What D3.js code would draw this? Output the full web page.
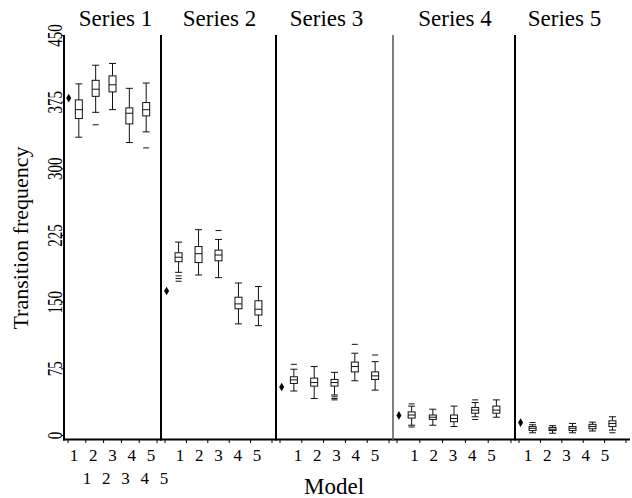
<!DOCTYPE html>
<html>
<head>
<meta charset="utf-8">
<script src="https://cdn.jsdelivr.net/npm/d3@7"></script>
<style>
  body { margin: 0; background: #fff; }
  svg text { font-family: 'Liberation Serif', serif; fill: #000; }
</style>
</head>
<body>
<svg id="chart" width="632" height="498"></svg>
<script>
// data
const seriesNames = ['Series 1', 'Series 2', 'Series 3', 'Series 4', 'Series 5'];
const models = ['1', '2', '3', '4', '5'];
const yTicks = [0, 75, 150, 225, 300, 375, 450];
const observed = [379, 162, 54, 22, 14];

const whiskerLow = [
  [335, 363, 366, 329, 341],
  [183, 180, 177, 125, 123],
  [49.5, 41, 45, 61, 50.5],
  [11, 11, 9.5, 20.5, 20],
  [2.5, 2, 2.5, 4.5, 5.5]
];
const q1 = [
  [356, 381, 386, 350, 359],
  [195, 194, 196, 142, 135],
  [58, 55, 55, 71, 62.5],
  [19, 17.5, 15, 24.5, 24.5],
  [5, 5, 5, 7, 9.5]
];
const median = [
  [366, 389, 394, 362, 366],
  [200, 204, 202.5, 147.5, 141.5],
  [62, 59, 59, 77, 66.5],
  [22.5, 20, 18.5, 28, 28],
  [7.5, 6.5, 7.5, 9.5, 13]
];
const q3 = [
  [377, 399, 404, 368, 374],
  [205, 212, 208, 155, 151],
  [65.5, 64, 62.5, 82, 71],
  [26, 22.5, 22.5, 31, 32.5],
  [9.5, 8.5, 9.5, 12, 16]
];
const whiskerHigh = [
  [395, 416, 418, 390, 396],
  [217, 231, 220, 171, 167],
  [74, 77, 70.5, 92, 82.5],
  [32.5, 29, 32.5, 36.5, 39.5],
  [11.5, 10.5, 13, 14.5, 20.5]
];
// [series index, model index, value]
const outliers = [
  [0, 1, 349], [0, 4, 323],
  [1, 0, 179], [1, 0, 176], [1, 0, 173], [1, 2, 230],
  [2, 0, 79.5], [2, 2, 43], [2, 2, 41], [2, 2, 39.5], [2, 3, 102], [2, 4, 90],
  [3, 0, 35], [3, 0, 9], [3, 3, 39.5], [3, 3, 17.5],
  [4, 0, 14], [4, 4, 2.5]
];

// layout
const panelEdges = [64, 161, 276, 393, 515, 630];
const titleDx = [3, 1, -8, 1, -8];
const labelDx = [0, 0, 2, -1, -6];
const labelStep = 19.3;
const boxW = 7;

const svg = d3.select('#chart').attr('font-family', 'Liberation Serif');

const y = d3.scaleLinear().domain([0, 450]).range([435, 35]);
const yBottom = 439.5;

// y axis
const yAxis = svg.append('g').attr('transform', `translate(${panelEdges[0]},0)`)
  .call(d3.axisLeft(y).tickValues(yTicks).tickSize(3).tickFormat(d3.format('d')))
  .attr('font-family', 'Liberation Serif');
yAxis.select('.domain').remove();
yAxis.selectAll('.tick line').attr('stroke', '#000');
yAxis.selectAll('.tick text').remove();
yAxis.selectAll('.tick').append('text')
  .attr('transform', 'translate(-2,0) rotate(-90) scale(1,1.45)')
  .attr('text-anchor', 'middle')
  .attr('font-size', 15)
  .text(d => d);

svg.append('text')
  .attr('transform', 'translate(28,238) rotate(-90)')
  .attr('text-anchor', 'middle')
  .attr('font-size', 22)
  .text('Transition frequency');

svg.append('text')
  .attr('x', 334).attr('y', 494)
  .attr('text-anchor', 'middle')
  .attr('font-size', 23)
  .text('Model');

// bottom line
svg.append('line')
  .attr('x1', panelEdges[0] - 1).attr('x2', 630)
  .attr('y1', yBottom).attr('y2', yBottom)
  .attr('stroke', '#000').attr('stroke-width', 2);

seriesNames.forEach((name, s) => {
  const left = panelEdges[s];
  const right = panelEdges[s + 1];
  const center = (left + right) / 2;
  const x = d3.scalePoint().domain(models).range([left, right]).padding(0.88);
  const g = svg.append('g');

  // vertical panel line on the left
  g.append('line')
    .attr('x1', left).attr('x2', left)
    .attr('y1', 35).attr('y2', yBottom + 1)
    .attr('stroke', s === 3 ? '#555' : '#000')
    .attr('stroke-width', s === 3 ? 1.5 : 2);

  g.append('text')
    .attr('x', center + titleDx[s]).attr('y', 26)
    .attr('text-anchor', 'middle')
    .attr('font-size', 23)
    .text(name);

  // small ticks on the bottom line
  const tickX = d3.range(6).map(i => left + 4 + i * (right - left - 8) / 5);
  g.selectAll('.xt').data(tickX).join('line')
    .attr('x1', d => d).attr('x2', d => d)
    .attr('y1', yBottom).attr('y2', yBottom + 3.5)
    .attr('stroke', '#000').attr('stroke-width', 1);

  // tick labels
  g.selectAll('.xl').data(models).join('text')
    .attr('x', (d, i) => center + labelDx[s] + (i - 2) * labelStep)
    .attr('y', 461)
    .attr('text-anchor', 'middle')
    .attr('font-size', 17)
    .text(d => d);
  if (s === 0) {
    g.selectAll('.xl2').data(models).join('text')
      .attr('x', (d, i) => center + 13 + (i - 2) * labelStep)
      .attr('y', 484)
      .attr('text-anchor', 'middle')
      .attr('font-size', 17)
      .text(d => d);
  }

  // observed value diamond
  const dx = x(models[0]) - 0.6 * x.step();
  g.append('path')
    .attr('d', d3.symbol(d3.symbolDiamond, 22)())
    .attr('transform', `translate(${dx},${y(observed[s])})`)
    .attr('fill', '#000');

  // boxes
  const boxes = models.map((m, i) => ({
    m, lo: whiskerLow[s][i], a: q1[s][i], med: median[s][i], b: q3[s][i], hi: whiskerHigh[s][i]
  }));
  const bg = g.selectAll('.box').data(boxes).join('g')
    .attr('stroke', '#111').attr('stroke-width', 1).attr('fill', 'none');
  bg.append('line')
    .attr('x1', d => x(d.m)).attr('x2', d => x(d.m))
    .attr('y1', d => y(d.hi)).attr('y2', d => y(d.b));
  bg.append('line')
    .attr('x1', d => x(d.m)).attr('x2', d => x(d.m))
    .attr('y1', d => y(d.a)).attr('y2', d => y(d.lo));
  bg.append('rect')
    .attr('x', d => x(d.m) - boxW / 2).attr('width', boxW)
    .attr('y', d => y(d.b)).attr('height', d => y(d.a) - y(d.b))
    .attr('fill', '#fff');
  bg.append('line')
    .attr('x1', d => x(d.m) - boxW / 2).attr('x2', d => x(d.m) + boxW / 2)
    .attr('y1', d => y(d.med)).attr('y2', d => y(d.med));
  bg.append('line')
    .attr('x1', d => x(d.m) - boxW / 2).attr('x2', d => x(d.m) + boxW / 2)
    .attr('y1', d => y(d.hi)).attr('y2', d => y(d.hi));
  bg.append('line')
    .attr('x1', d => x(d.m) - boxW / 2).attr('x2', d => x(d.m) + boxW / 2)
    .attr('y1', d => y(d.lo)).attr('y2', d => y(d.lo));

  // outliers as short dashes
  g.selectAll('.out').data(outliers.filter(o => o[0] === s)).join('line')
    .attr('x1', d => x(models[d[1]]) - 3).attr('x2', d => x(models[d[1]]) + 3)
    .attr('y1', d => y(d[2])).attr('y2', d => y(d[2]))
    .attr('stroke', '#111').attr('stroke-width', 1);
});
</script>
</body>
</html>
